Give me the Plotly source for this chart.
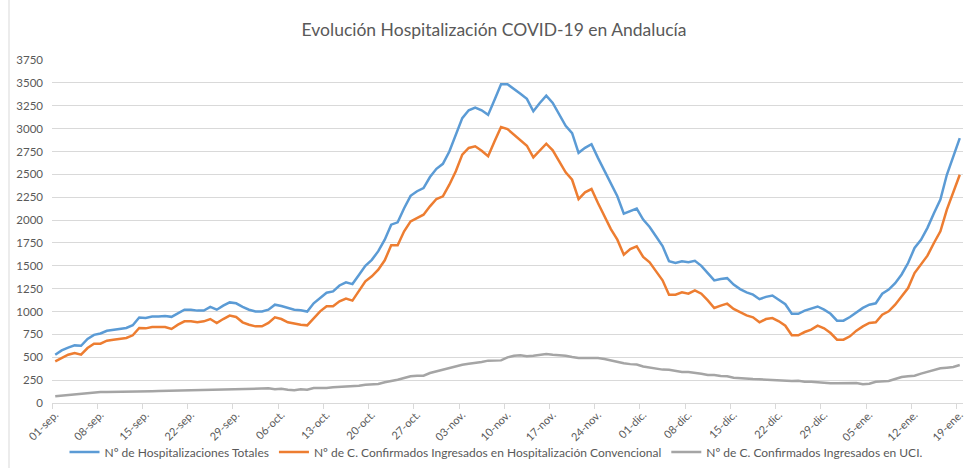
import pandas as pd
import plotly.graph_objects as go

start_date = "2020-09-01"
n_days = 141
dates = pd.date_range(start_date, periods=n_days, freq="D")

tick_labels = ["01-sep.", "08-sep.", "15-sep.", "22-sep.", "29-sep.", "06-oct.", "13-oct.",
               "20-oct.", "27-oct.", "03-nov.", "10-nov.", "17-nov.", "24-nov.", "01-dic.",
               "08-dic.", "15-dic.", "22-dic.", "29-dic.", "05-ene.", "12-ene.", "19-ene."]

hosp_totales = [
    528, 575, 605, 630, 625, 700, 745,
    760, 790, 800, 815, 820, 850, 935,
    930, 945, 945, 950, 942, 985, 1020,
    1020, 1010, 1010, 1050, 1020, 1065, 1100,
    1090, 1050, 1020, 1000, 1000, 1020, 1075,
    1060, 1040, 1020, 1015, 1000, 1090, 1150,
    1205, 1220, 1285, 1320, 1300, 1400, 1500,
    1565, 1660, 1785, 1950, 1975, 2130, 2265,
    2315, 2350, 2470, 2560, 2615, 2750, 2935,
    3115, 3200, 3230, 3200, 3150, 3315, 3485,
    3485, 3435, 3380, 3325, 3190, 3280, 3360,
    3280, 3150, 3030, 2950, 2735, 2790, 2830,
    2680, 2545, 2410, 2260, 2070, 2095, 2125,
    2005, 1925, 1820, 1715, 1550, 1530, 1550,
    1540, 1555, 1500, 1420, 1340, 1355, 1365,
    1295, 1245, 1210, 1185, 1135, 1160, 1175,
    1130, 1080, 975, 975, 1010, 1030, 1055,
    1020, 975, 900, 900, 940, 990, 1040,
    1075, 1090, 1195, 1240, 1310, 1405, 1530,
    1695, 1785, 1915, 2075, 2225, 2495, 2700,
    2895,
]

hosp_convencional = [
    455, 492, 528, 547, 528, 601, 649,
    649, 681, 692, 700, 711, 740, 820,
    816, 831, 831, 831, 809, 856, 893,
    893, 882, 893, 918, 875, 918, 955,
    940, 882, 856, 838, 838, 875, 937,
    918, 882, 867, 856, 849, 929, 1002,
    1057, 1057, 1111, 1141, 1119, 1221, 1330,
    1385, 1458, 1560, 1724, 1724, 1877, 1986,
    2022, 2059, 2150, 2230, 2259, 2387, 2533,
    2715, 2788, 2806, 2758, 2697, 2861, 3017,
    2995, 2933, 2868, 2813, 2686, 2762, 2835,
    2762, 2642, 2522, 2441, 2230, 2303, 2339,
    2186, 2041, 1902, 1786, 1622, 1683, 1713,
    1596, 1538, 1439, 1341, 1184, 1184, 1210,
    1195, 1232, 1195, 1122, 1039, 1064, 1086,
    1028, 991, 958, 937, 882, 918, 929,
    893, 845, 740, 740, 776, 802, 845,
    816, 765, 692, 692, 729, 791, 838,
    875, 882, 966, 1002, 1075, 1166, 1257,
    1421, 1512, 1611, 1749, 1877, 2114, 2314,
    2496,
]

uci = [
    73, 80, 88, 95, 102, 110, 117,
    120, 120, 120, 120, 120, 122, 125,
    126, 128, 130, 132, 135, 137, 138,
    138, 140, 140, 140, 143, 148, 152,
    153, 153, 155, 158, 155, 160, 150,
    155, 145, 140, 150, 146, 164, 160,
    164, 171, 175, 182, 182, 189, 200,
    204, 208, 226, 237, 255, 273, 292,
    299, 299, 328, 346, 364, 383, 408,
    419, 430, 437, 448, 463, 466, 466,
    499, 517, 521, 510, 517, 528, 536,
    528, 525, 517, 503, 492, 492, 492,
    492, 481, 463, 450, 435, 425, 420,
    400, 386, 378, 365, 364, 353, 340,
    339, 332, 320, 306, 306, 295, 292,
    277, 270, 270, 262, 259, 255, 248,
    244, 240, 240, 244, 233, 233, 226,
    219, 215, 215, 219, 219, 219, 204,
    211, 233, 233, 240, 262, 284, 292,
    299, 321, 343, 364, 379, 386, 394,
    415,
]

series_names = ["Nº de Hospitalizaciones Totales",
                "Nº de C. Confirmados Ingresados en Hospitalización Convencional",
                "Nº de C. Confirmados Ingresados en UCI."]
series_colors = ["#5B9BD5", "#ED7D31", "#A5A5A5"]

FONT = "Lato"
TXT = "#595959"

fig = go.Figure()
for name, vals, col in zip(series_names, [hosp_totales, hosp_convencional, uci], series_colors):
    fig.add_trace(go.Scatter(x=dates, y=vals, mode="lines", name=name,
                             line=dict(color=col, width=2.5)))

tick_dates = dates[::7]
half_day = pd.Timedelta(hours=12)

fig.update_layout(
    width=968, height=468,
    margin=dict(l=52, r=5, t=60, b=65, autoexpand=False),
    paper_bgcolor="white", plot_bgcolor="white",
    font=dict(family=FONT, color=TXT, size=11),
    title=dict(text="Evolución Hospitalización COVID-19 en Andalucía",
               x=494 / 968, xanchor="center", y=1 - 30 / 468, yanchor="middle",
               xref="container", yref="container",
               font=dict(family=FONT, size=17.5, color=TXT)),
    showlegend=True,
    legend=dict(orientation="h", x=(496 - 52) / 911, xanchor="center",
                y=-49 / 343, yanchor="middle",
                font=dict(family=FONT, size=12, color=TXT),
                bgcolor="rgba(0,0,0,0)", itemwidth=30, tracegroupgap=0),
    xaxis=dict(
        type="date",
        range=[dates[0] - half_day, dates[-1] + half_day],
        tickmode="array", tickvals=list(tick_dates), ticktext=tick_labels,
        tickangle=-45, ticks="", showgrid=False,
        showline=True, linecolor="#D9D9D9", linewidth=1,
        tickfont=dict(family=FONT, size=11, color=TXT),
        minor=dict(tickmode="linear", tick0=dates[0] - half_day, dtick=7 * 86400000,
                   ticks="outside", ticklen=5, tickcolor="#D9D9D9", tickwidth=1,
                   showgrid=False),
        fixedrange=True,
    ),
    yaxis=dict(
        range=[0, 3750], tickmode="linear", tick0=0, dtick=250,
        showgrid=True, gridcolor="#D9D9D9", gridwidth=1,
        zeroline=False, showline=False, ticks="",
        tickfont=dict(family=FONT, size=11.5, color=TXT),
        ticklabelstandoff=8,
        fixedrange=True,
    ),
)

fig.add_shape(type="line", xref="paper", yref="paper",
              x0=(9 - 52) / 911, x1=(9 - 52) / 911, y0=-65 / 343, y1=403 / 343,
              line=dict(color="#D9D9D9", width=1))

fig.write_html("out.html",
               config={"displayModeBar": False},
               post_script="document.body.style.margin='0';document.body.style.overflow='hidden';")
